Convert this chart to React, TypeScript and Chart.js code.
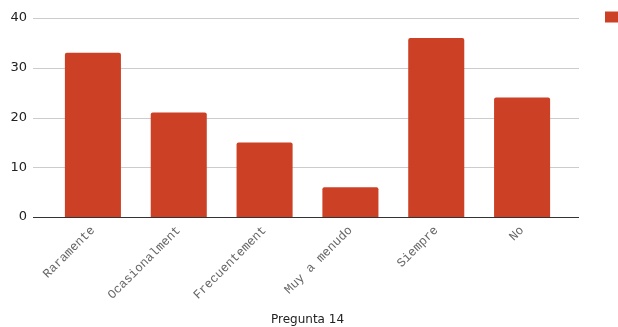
import { useEffect, useRef } from "react";
import { Chart, registerables } from "chart.js";

Chart.register(...registerables);

// Answer categories and how many people chose each one
const categories = ["Raramente", "Ocasionalment", "Frecuentement", "Muy a menudo", "Siempre", "No"];
const counts = [33, 21, 15, 6, 36, 24];
const yTicks = [0, 10, 20, 30, 40];
const seriesName = "Respuestas";
const axisTitle = "Pregunta 14";

const BAR_COLOR = "#cc4125";
const CANVAS_W = 654;
const CANVAS_H = 327;

// Horizontal gridlines that run a little past the plot area on both sides,
// plus a dark baseline at zero.
const wideGrid = {
  id: "wideGrid",
  beforeDatasetsDraw(chart: any) {
    const { ctx, chartArea, scales } = chart;
    const y = scales.y;
    ctx.save();
    ctx.lineWidth = 1;
    ctx.strokeStyle = "#cccccc";
    for (const t of y.ticks) {
      if (t.value === 0) continue;
      const py = Math.round(y.getPixelForValue(t.value)) + 0.5;
      ctx.beginPath();
      ctx.moveTo(chartArea.left - 17, py);
      ctx.lineTo(chartArea.right + 14, py);
      ctx.stroke();
    }
    ctx.restore();
  },
  afterDatasetsDraw(chart: any) {
    const { ctx, chartArea, scales } = chart;
    const py = Math.round(scales.y.getPixelForValue(0)) + 0.5;
    ctx.save();
    ctx.lineWidth = 1;
    ctx.strokeStyle = "#333333";
    ctx.beginPath();
    ctx.moveTo(chartArea.left - 17, py);
    ctx.lineTo(chartArea.right + 14, py);
    ctx.stroke();
    ctx.restore();
  },
};

export default function App() {
  const canvasRef = useRef<HTMLCanvasElement | null>(null);

  useEffect(() => {
    if (!canvasRef.current) return;
    const chart = new Chart(canvasRef.current, {
      type: "bar",
      data: {
        labels: categories,
        datasets: [
          {
            label: seriesName,
            data: counts,
            backgroundColor: BAR_COLOR,
            borderWidth: 0,
            borderRadius: 2,
            barPercentage: 0.653,
            categoryPercentage: 1,
          },
        ],
      },
      options: {
        responsive: false,
        animation: false,
        devicePixelRatio: 1,
        layout: { padding: 0 },
        plugins: {
          tooltip: { enabled: false },
          legend: {
            position: "right",
            align: "start",
            maxWidth: 60,
            labels: {
              boxWidth: 14,
              boxHeight: 11,
              padding: 11,
              color: "#222222",
              font: { family: "DejaVu Sans", size: 12 },
            },
          },
        },
        scales: {
          x: {
            position: "bottom",
            grid: { display: false, drawTicks: false },
            border: { display: false },
            ticks: {
              autoSkip: false,
              maxRotation: 45,
              minRotation: 45,
              padding: 6,
              color: "#666666",
              font: { family: "Liberation Mono", size: 12.5 },
            },
            title: {
              display: true,
              text: axisTitle,
              color: "#222222",
              font: { family: "DejaVu Sans", size: 12 },
              padding: { top: 0, bottom: 0 },
            },
            afterFit: (s: any) => {
              s.height = 110;
            },
          },
          top: {
            type: "category",
            position: "top",
            display: true,
            grid: { display: false, drawTicks: false },
            border: { display: false },
            ticks: { display: false, padding: 0 },
            afterFit: (s: any) => {
              s.height = 18;
            },
          },
          y: {
            position: "left",
            min: 0,
            max: 40,
            afterBuildTicks: (s: any) => {
              s.ticks = yTicks.map((v) => ({ value: v }));
            },
            // gap between tick labels and plot comes from the (hidden) tick length
            grid: { display: false, drawTicks: true, tickLength: 23 },
            border: { display: false },
            ticks: {
              padding: 0,
              color: "#222222",
              font: { family: "DejaVu Sans", size: 13 },
            },
            afterFit: (s: any) => {
              s.width = 50;
            },
          },
          right: {
            type: "linear",
            position: "right",
            display: true,
            grid: { display: false, drawTicks: false },
            border: { display: false },
            ticks: { display: false, padding: 0 },
            afterFit: (s: any) => {
              s.width = 29;
            },
          },
        },
      },
      plugins: [wideGrid],
    } as any);
    return () => chart.destroy();
  }, []);

  return (
    <div
      style={{
        position: "fixed",
        left: 0,
        top: 0,
        width: 618,
        height: CANVAS_H,
        overflow: "hidden",
        background: "#ffffff",
      }}
    >
      <canvas ref={canvasRef} width={CANVAS_W} height={CANVAS_H} style={{ display: "block" }} />
    </div>
  );
}
